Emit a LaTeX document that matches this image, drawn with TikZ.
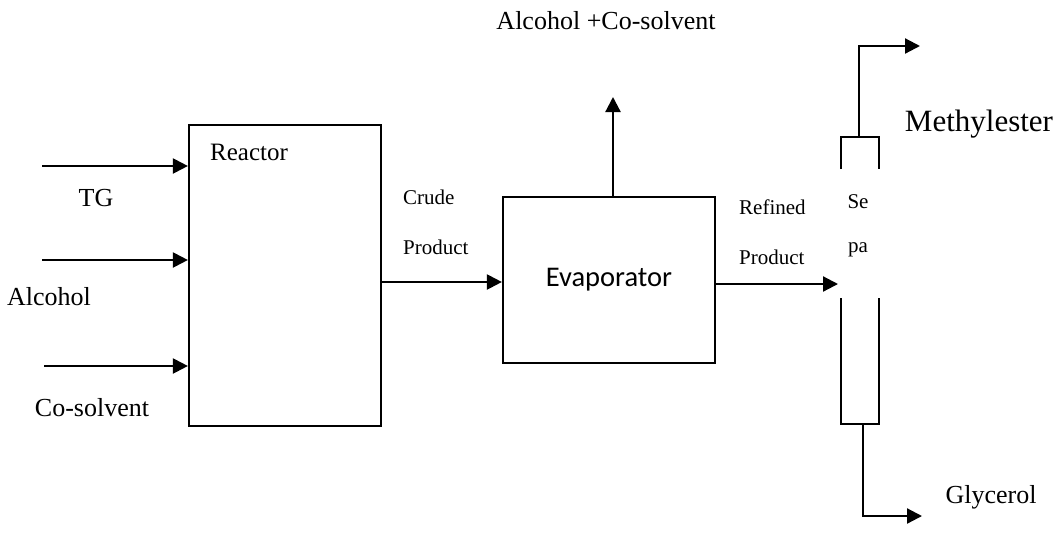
\documentclass[tikz,border=0pt]{standalone}
\usepackage{fontspec}
\setmainfont{Liberation Serif}
\newfontfamily\calibri{Carlito}
\usepackage{tikz}
\usetikzlibrary{arrows.meta}
\tikzstyle{unit}=[draw, line width=2.2pt, inner sep=0pt]% process boxes
\tikzstyle{flow}=[-{Triangle[length=15pt,width=15pt]}, line width=2.2pt]
\tikzstyle{wall}=[line width=2.2pt]
\tikzstyle{lbl}=[inner sep=0pt, font=\fontsize{26}{30}\selectfont]
\tikzstyle{small}=[inner sep=0pt, font=\fontsize{21}{25}\selectfont]

\begin{document}
\begin{tikzpicture}[x=1pt,y=1pt]
\useasboundingbox (0,0) rectangle (1059,-536);
% units
\node[unit, minimum width=192pt, minimum height=301pt] (reac) at (285,-275.5) {};
\node[unit, minimum width=212pt, minimum height=166pt, font=\calibri\fontsize{28.5}{32}\selectfont] (evap) at (609,-280) {Evaporator};
% separator column
\coordinate (sept) at (859,-137);
\coordinate (sepb) at (863,-424);
\draw[wall] (841,-169) -- (841,-137) -- (879,-137) -- (879,-169);
\draw[wall] (841,-298) -- (841,-424) -- (879,-424) -- (879,-298);
% stream ends
\coordinate (tg) at (42,-166);
\coordinate (alc) at (42,-260);
\coordinate (cos) at (44,-366);
\coordinate (crude) at (381,-282);
\coordinate (vap) at (613,-97);
\coordinate (feed) at (838,-284);
\coordinate (me) at (920,-46);
\coordinate (gly) at (922,-516);
% streams
\draw[flow] (tg) -- (tg -| reac.west);
\draw[flow] (alc) -- (alc -| reac.west);
\draw[flow] (cos) -- (cos -| reac.west);
\draw[flow] (crude) -- (crude -| evap.west);
\draw[flow] (vap |- evap.north) -- (vap);
\draw[flow] (feed -| evap.east) -- (feed);
\draw[flow] (sept) |- (me);
\draw[flow] (sepb) |- (gly);
% labels
\node[lbl] (ltg) at (96,-198) {TG};
\node[lbl] (lalc) at (49,-297) {Alcohol};
\node[lbl] (lcos) at (92,-408) {Co-solvent};
\node[inner sep=0pt, font=\fontsize{25}{29}\selectfont] (lreac) at (249,-152) {Reactor};
\node[small, anchor=west] (lcr1) at (403,-197) {Crude};
\node[small, anchor=west] (lcr2) at (403,-247) {Product};
\node[lbl] (lvap) at (606,-21) {Alcohol +Co-solvent};
\node[small, anchor=west] (lrf1) at (739,-207) {Refined};
\node[small, anchor=west] (lrf2) at (739,-257) {Product};
\node[small] (lse) at (858,-202) {Se};
\node[small] (lpa) at (858,-250) {pa};
\node[inner sep=0pt, font=\fontsize{31}{35}\selectfont] (lme) at (979,-124) {Methylester};
\node[lbl] (lgly) at (991,-497) {Glycerol};
\end{tikzpicture}
\end{document}
